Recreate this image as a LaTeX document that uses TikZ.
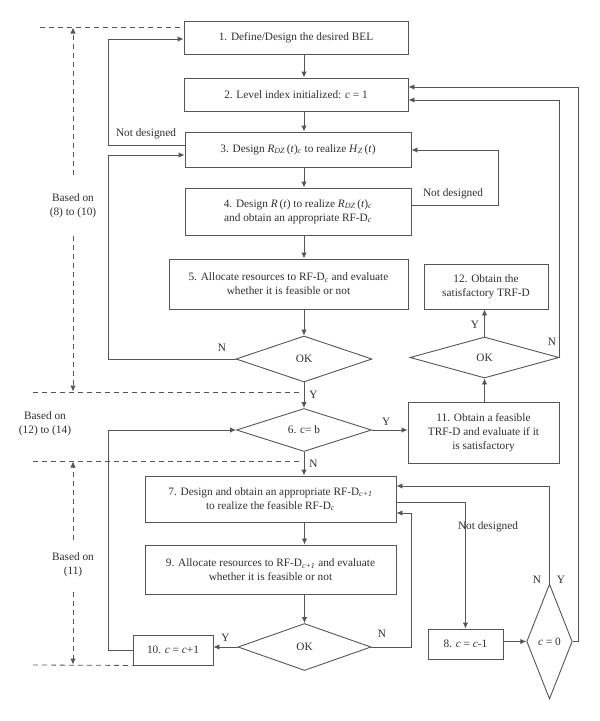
\documentclass[tikz,border=0pt]{standalone}
\usepackage{fontspec}
\setmainfont{Liberation Serif}
\usetikzlibrary{arrows.meta,shapes.geometric}
\newcommand{\isub}[1]{\textsubscript{\itshape #1}}
\newcommand{\RDZ}{\textit{R}\isub{DZ}\,(\textit{t})\isub{c}}
\definecolor{lc}{HTML}{555555}
\definecolor{tc}{HTML}{2E2E2E}
\begin{document}
\begin{tikzpicture}[x=1pt,y=-1pt,
  font=\fontsize{11.3}{14}\selectfont, text=tc,
  line/.style={draw=lc, line width=0.9pt},
  arr/.style={line, -{Latex[length=6pt,width=5.5pt]}},
  dashline/.style={draw=lc, line width=0.8pt, dash pattern=on 5pt off 4pt},
  darr/.style={dashline, -{Latex[length=6pt,width=5.5pt]}},
  box/.style={draw=lc, line width=0.9pt, rectangle, align=center, inner sep=0pt},
  dia/.style={draw=lc, line width=0.9pt, diamond, inner sep=0pt, aspect=3},
  lbl/.style={inner sep=1pt}]
\path[use as bounding box] (0,0) rectangle (600,721);

% boxes
\node[box, minimum width=224pt, minimum height=33pt] (b1) at (296,37.5) {1. Define/Design the desired BEL};
\node[box, minimum width=224pt, minimum height=33pt] (b2) at (296,94.5) {2. Level index initialized: \textit{c} = 1};
\node[box, minimum width=226pt, minimum height=35pt] (b3) at (298,149.5) {3. Design \RDZ\ to realize \textit{H}\isub{Z}\,(\textit{t})};
\node[box, minimum width=226pt, minimum height=47pt] (b4) at (298,211.5) {4. Design \textit{R}\,(\textit{t}) to realize \RDZ\\and obtain an appropriate RF-D\isub{c}};
\node[box, minimum width=239pt, minimum height=50pt] (b5) at (288.5,284) {5. Allocate resources to RF-D\isub{c} and evaluate\\whether it is feasible or not};
\node[box, minimum width=251pt, minimum height=46pt] (b7) at (270.5,499) {7. Design and obtain an appropriate RF-D\isub{c+1}\\to realize the feasible RF-D\isub{c}};
\node[box, minimum width=251pt, minimum height=49pt] (b9) at (270.5,569.5) {9. Allocate resources to RF-D\isub{c+1} and evaluate\\whether it is feasible or not};
\node[box, minimum width=80pt, minimum height=30pt] (b10) at (173,650) {10. \textit{c} = \textit{c}+1};
\node[box, minimum width=75pt, minimum height=30pt] (b8) at (465.5,644) {8. \textit{c} = \textit{c}-1};
\node[box, minimum width=151pt, minimum height=61pt] (b11) at (483.5,432.5) {11. Obtain a feasible\\TRF-D and evaluate if it\\is satisfactory};
\node[box, minimum width=124pt, minimum height=45pt] (b12) at (486,286.5) {12. Obtain the\\satisfactory TRF-D};

% diamonds
\node[dia, minimum width=136pt, minimum height=46pt] (ok1) at (304,359) {OK};
\node[dia, minimum width=135pt, minimum height=43pt] (d6) at (304,430) {6. c= b};
\node[dia, minimum width=133pt, minimum height=47pt] (ok3) at (304.5,647) {OK};
\node[dia, minimum width=149pt, minimum height=41pt] (ok2) at (484.5,357.5) {OK};
\node[dia, minimum width=45pt, minimum height=115pt] (c0) at (549.5,641.5) {\textit{c} = 0};

% main spine
\draw[arr] (b1.south -| ok1) -- (b2.north -| ok1);
\draw[arr] (b2.south -| ok1) -- (b3.north -| ok1);
\draw[arr] (b3.south -| ok1) -- (b4.north -| ok1);
\draw[arr] (b4.south -| ok1) -- (b5.north -| ok1);
\draw[arr] (b5.south -| ok1) -- (ok1.north);
\draw[arr] (ok1.south) -- node[lbl, right, pos=0.5, xshift=4pt] {Y} (d6.north);
\draw[arr] (d6.south) -- node[lbl, right, pos=0.5, xshift=4pt] {N} (b7.north -| d6);
\draw[arr] (b7.south -| ok3) -- (b9.north -| ok3);
\draw[arr] (b9.south -| ok3) -- (ok3.north);

% left loops
\coordinate (lx) at (108,0);
\draw[arr] (b3.west |- 0,145) -| (lx |- 0,39) -- (b1.west |- 0,39);
\node[lbl] (nd1) at (146,134) {Not designed};
\draw[arr] (ok1.west) -| (lx |- 0,155) -- (b3.west |- 0,155);
\node[lbl] (n1) at (222,348) {N};
\draw[arr] (b10.west) -| (lx |- d6) -- (d6.west);

% right loop 4 -> 3
\draw[arr] (b4.east |- 0,205) -| (498,150) -- (b3.east |- 0,150);
\node[lbl] (nd2) at (453,194) {Not designed};

% TRF branch
\draw[arr] (d6.east) -- node[lbl, above, pos=0.4, yshift=3pt] {Y} (b11.west |- d6);
\draw[arr] (b11.north -| ok2) -- (ok2.south);
\draw[arr] (ok2.north) -- node[lbl, left, pos=0.45, xshift=-4pt] {Y} (b12.south -| ok2);
\draw[arr] (ok2.east) -| (ok2.east |- 0,100) -- (b2.east |- 0,100);
\node[lbl] (n2) at (552,342) {N};
\draw[arr] (c0.east) -- (578,641.5) -- (578,87) -- (b2.east |- 0,87);

% lower loops
\draw[arr] (ok3.west) -- node[lbl, above, pos=0.5, yshift=4pt] {Y} (b10.east |- ok3);
\draw[arr] (ok3.east) -| (411,513) -- (b7.east |- 0,513);
\node[lbl] (n3) at (382,634) {N};
\draw[arr] (c0.north) -- (c0.north |- 0,486) -- (b7.east |- 0,486);
\node[lbl] (n4) at (537,580) {N};
\node[lbl] (y4) at (561,580) {Y};
\draw[arr] (b7.east |- 0,502) -| (b8.north);
\node[lbl] (nd3) at (488,527) {Not designed};
\draw[arr] (b8.east |- c0) -- (c0.west);

% dashed guides
\draw[dashline] (40,27) -- (b1.west |- 0,27);
\draw[dashline] (33,392) -- (300,392);
\draw[dashline] (33,461) -- (300,461);
\draw[dashline] (33,665) -- (b10.south west);

\node[lbl, align=center] (bo1) at (73,206) {Based on\\(8) to (10)};
\draw[darr] (bo1.north |- 0,175) -- (bo1.north |- 0,27.5);
\draw[darr] (bo1.south |- 0,236) -- (bo1.south |- 0,391.5);
\node[lbl, align=center] (bo2) at (45,424) {Based on\\(12) to (14)};
\node[lbl, align=center] (bo3) at (73,565) {Based on\\(11)};
\draw[darr] (bo3.north |- 0,540) -- (bo3.north |- 0,461.5);
\draw[darr] (bo3.south |- 0,592) -- (bo3.south |- 0,664.5);
\end{tikzpicture}
\end{document}
